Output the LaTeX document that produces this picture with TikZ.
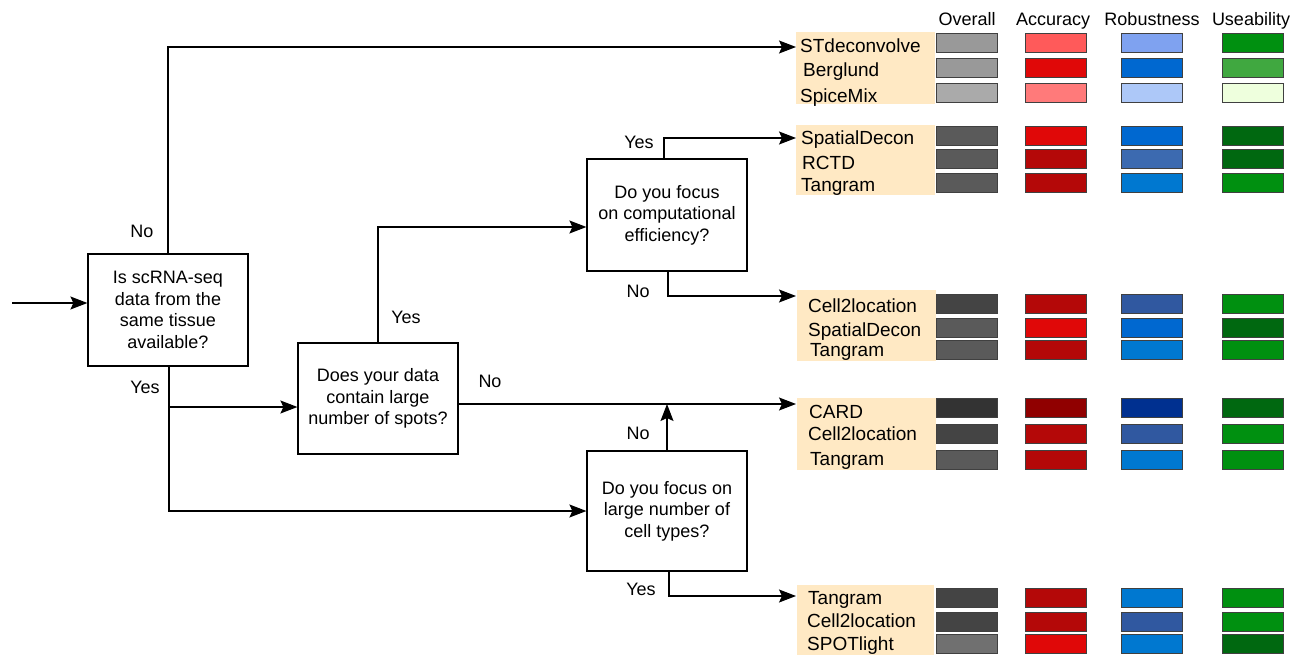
\documentclass[tikz,border=0pt]{standalone}
\usepackage{fontspec}
\setmainfont{Liberation Sans}
\usetikzlibrary{arrows.meta}
\definecolor{beige}{HTML}{FFE9C4}
\definecolor{gA}{HTML}{999999}
\definecolor{gB}{HTML}{AAAAAA}
\definecolor{gC}{HTML}{5A5A5A}
\definecolor{gD}{HTML}{444444}
\definecolor{gE}{HTML}{333333}
\definecolor{gF}{HTML}{707070}
\definecolor{rA}{HTML}{FF5A5A}
\definecolor{rB}{HTML}{E00808}
\definecolor{rC}{HTML}{FF7A7A}
\definecolor{rD}{HTML}{B40808}
\definecolor{rE}{HTML}{900000}
\definecolor{bA}{HTML}{7FA2F0}
\definecolor{bB}{HTML}{0068D0}
\definecolor{bC}{HTML}{ADC8F8}
\definecolor{bD}{HTML}{3C6AB0}
\definecolor{bE}{HTML}{0078D0}
\definecolor{bF}{HTML}{3058A0}
\definecolor{bG}{HTML}{003090}
\definecolor{nA}{HTML}{009010}
\definecolor{nB}{HTML}{40A840}
\definecolor{nC}{HTML}{EEFFDD}
\definecolor{nD}{HTML}{006810}
\newcommand\mrow[9]{%
  \node[mlab] (#1) at (#2,#3+7.5) {#4};
  \node[bar, fill=#6] (#1o) at (966.5,#5) {};
  \node[bar, fill=#7] (#1a) at (1056,#5) {};
  \node[bar, fill=#8] (#1r) at (1152,#5) {};
  \node[bar, fill=#9] (#1u) at (1252.5,#5) {};
}
\begin{document}
\begin{tikzpicture}[x=1pt,y=-1pt,
  q/.style={draw, line width=1.2pt, minimum width=160pt, align=center, inner sep=0pt,
    font=\fontsize{18}{21.5}\selectfont},
  arr/.style={line width=1.2pt, -{Stealth[length=17pt,width=13pt,inset=3pt]}},
  ln/.style={line width=1.2pt},
  lab/.style={anchor=base, inner sep=0pt, font=\fontsize{18}{21.5}\selectfont},
  mlab/.style={anchor=base west, inner sep=0pt, font=\fontsize{19}{22}\selectfont},
  hdr/.style={anchor=base, inner sep=0pt, font=\fontsize{18}{21.5}\selectfont},
  bar/.style={draw=black!75, line width=1pt, minimum width=61pt, minimum height=19pt, inner sep=0pt},
  grp/.style={fill=beige, inner sep=0pt}
]
\useasboundingbox (0,0) rectangle (1303,655);

% beige groups
\node[grp, minimum width=139pt, minimum height=72pt] (g1) at (865.5,68) {};
\node[grp, minimum width=139pt, minimum height=70pt] (g2) at (865.5,160) {};
\node[grp, minimum width=139pt, minimum height=71pt] (g3) at (866.5,325.5) {};
\node[grp, minimum width=139pt, minimum height=72pt] (g4) at (866.5,434) {};
\node[grp, minimum width=137pt, minimum height=70pt] (g5) at (865.5,620) {};

% headers
\node[hdr] (h1) at (967,26) {Overall};
\node[hdr] (h2) at (1053,26) {Accuracy};
\node[hdr] (h3) at (1152,26) {Robustness};
\node[hdr] (h4) at (1251,26) {Useability};

% rows
\mrow{a1}{800}{45}{STdeconvolve}{43.5}{gA}{rA}{bA}{nA}
\mrow{a2}{803}{69}{Berglund}{68.5}{gA}{rB}{bB}{nB}
\mrow{a3}{800}{95}{SpiceMix}{93.5}{gB}{rC}{bC}{nC}

\mrow{b1r}{801}{137}{SpatialDecon}{136.5}{gC}{rB}{bB}{nD}
\mrow{b2r}{802}{162}{RCTD}{159.5}{gC}{rD}{bD}{nD}
\mrow{b3r}{801}{184}{Tangram}{183}{gC}{rD}{bE}{nA}

\mrow{c1}{808}{305}{Cell2location}{303.5}{gD}{rD}{bF}{nA}
\mrow{c2}{808}{329}{SpatialDecon}{327.5}{gC}{rB}{bB}{nD}
\mrow{c3}{810}{349}{Tangram}{350}{gC}{rD}{bE}{nA}

\mrow{d1}{809}{411}{CARD}{407.5}{gE}{rE}{bG}{nD}
\mrow{d2}{808}{433}{Cell2location}{433.5}{gD}{rD}{bF}{nA}
\mrow{d3}{810}{458}{Tangram}{459.5}{gC}{rD}{bE}{nA}

\mrow{e1}{808}{597}{Tangram}{598}{gD}{rD}{bE}{nA}
\mrow{e2}{807}{620}{Cell2location}{621.5}{gD}{rD}{bF}{nA}
\mrow{e3}{807}{643}{SPOTlight}{644}{gF}{rB}{bE}{nD}

% decision boxes
\node[q, minimum height=112pt] (q1) at (168,310) {Is scRNA-seq\\data from the\\same tissue\\available?};
\node[q, minimum height=111pt] (q2) at (378,398.5) {Does your data\\contain large\\number of spots?};
\node[q, minimum height=112pt] (q3) at (667,215) {Do you focus\\on computational\\efficiency?};
\node[q, minimum height=120pt] (q4) at (667,511) {Do you focus on\\large number of\\cell types?};

% coordinates
\coordinate (in) at (12,303);
\coordinate (t1) at (796,47);
\coordinate (t2) at (796,138);
\coordinate (t3) at (796,296);
\coordinate (t4) at (796,404);
\coordinate (t5) at (796,596);
\coordinate (j1) at (169,407);

% connectors
\draw[arr] (in) -- (in -| q1.west);
\draw[arr] (q1.north) |- (t1);
\draw[arr] ([xshift=1pt]q1.south) |- (q4.west);
\draw[arr] (j1) -- (j1 -| q2.west);
\draw[arr] (q2.north) |- ([yshift=-12pt]q3.west);
\draw[arr] (q2.east |- t4) -- (t4);
\draw[arr] ([xshift=-3pt]q3.north) |- (t2);
\draw[arr] ([xshift=1pt]q3.south) |- (t3);
\draw[arr] (q4.north) -- (q4.north |- t4);
\draw[arr] ([xshift=2pt]q4.south) |- (t5);

% branch labels
\node[lab] (l1) at (142,237) {No};
\node[lab] (l2) at (145,393) {Yes};
\node[lab] (l3) at (406,323) {Yes};
\node[lab] (l4) at (490,387) {No};
\node[lab] (l5) at (639,149) {Yes};
\node[lab] (l6) at (638,297) {No};
\node[lab] (l7) at (638,439) {No};
\node[lab] (l8) at (641,595) {Yes};
\end{tikzpicture}
\end{document}
